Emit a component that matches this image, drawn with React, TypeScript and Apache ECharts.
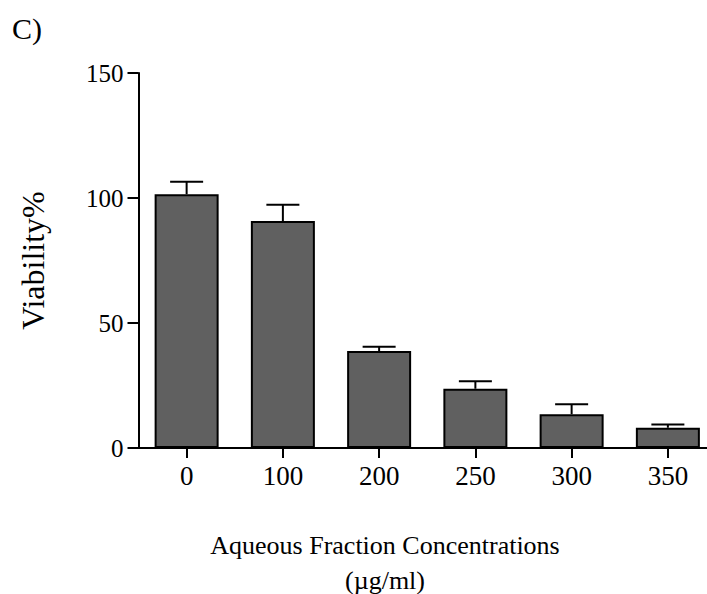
import React, { useEffect, useRef } from "react";
import * as echarts from "echarts";

const categories = ["0", "100", "200", "250", "300", "350"];
const viability = [101.5, 90.8, 38.8, 23.7, 13.5, 8.1];
const errorUp = [5.0, 6.5, 1.7, 3.0, 4.0, 1.3];
const yTicks = { min: 0, max: 150, interval: 50 };

const FONT = "'Liberation Serif', 'Times New Roman', serif";

// The plot's last category band runs a little past the visible page edge,
// so the chart surface is wider than the window and gets clipped there.
const CHART_W = 716;
const CHART_H = 594;

export default function App() {
  const ref = useRef<HTMLDivElement>(null);

  useEffect(() => {
    if (!ref.current) return;
    const chart = echarts.init(ref.current, null, { renderer: "svg" });

    const errorData = viability.map((v, i) => [i, v, v + errorUp[i]]);

    chart.setOption({
      animation: false,
      backgroundColor: "#ffffff",
      grid: { left: 138.5, top: 73, height: 375, right: 0, containLabel: false },
      xAxis: {
        type: "category",
        data: categories,
        axisLine: { show: true, lineStyle: { color: "#000", width: 2 } },
        axisTick: { show: true, alignWithLabel: true, length: 10, lineStyle: { color: "#000", width: 2 } },
        axisLabel: { color: "#000", fontFamily: FONT, fontSize: 27, margin: 14 },
        splitLine: { show: false },
      },
      yAxis: {
        type: "value",
        min: yTicks.min,
        max: yTicks.max,
        interval: yTicks.interval,
        axisLine: { show: true, lineStyle: { color: "#000", width: 2 } },
        axisTick: { show: true, length: 11, lineStyle: { color: "#000", width: 2 } },
        axisLabel: { color: "#000", fontFamily: FONT, fontSize: 25, margin: 15 },
        splitLine: { show: false },
        name: "Viability%",
        nameLocation: "middle",
        nameRotate: 90,
        nameGap: 90,
        nameTextStyle: { color: "#000", fontFamily: FONT, fontSize: 32 },
      },
      series: [
        {
          type: "bar",
          data: viability,
          barWidth: 64,
          itemStyle: { color: "#606060", borderColor: "#000", borderWidth: 2 },
        },
        {
          type: "custom",
          data: errorData,
          z: 1,
          renderItem: (params: any, api: any) => {
            const x = api.coord([api.value(0), api.value(1)])[0];
            const yLow = api.coord([api.value(0), api.value(1)])[1];
            const yHigh = api.coord([api.value(0), api.value(2)])[1];
            const half = 16.5;
            const style = { stroke: "#000", lineWidth: 2 };
            return {
              type: "group",
              children: [
                { type: "line", shape: { x1: x, y1: yLow, x2: x, y2: yHigh }, style },
                { type: "line", shape: { x1: x - half, y1: yHigh, x2: x + half, y2: yHigh }, style },
              ],
            };
          },
        },
      ],
      graphic: [
        {
          type: "text",
          left: 12,
          top: 13,
          style: { text: "C)", fill: "#000", font: `30px ${FONT}` },
        },
        {
          type: "text",
          x: 385,
          y: 545,
          style: {
            text: "Aqueous Fraction Concentrations",
            fill: "#000",
            font: `26px ${FONT}`,
            align: "center",
            verticalAlign: "middle",
          },
        },
        {
          type: "text",
          x: 385,
          y: 580,
          style: {
            text: "(\u00b5g/ml)",
            fill: "#000",
            font: `26px ${FONT}`,
            align: "center",
            verticalAlign: "middle",
          },
        },
      ],
    });

    return () => chart.dispose();
  }, []);

  return (
    <div
      ref={ref}
      style={{
        position: "fixed",
        left: 0,
        top: 0,
        width: CHART_W,
        height: CHART_H,
        background: "#fff",
      }}
    />
  );
}
